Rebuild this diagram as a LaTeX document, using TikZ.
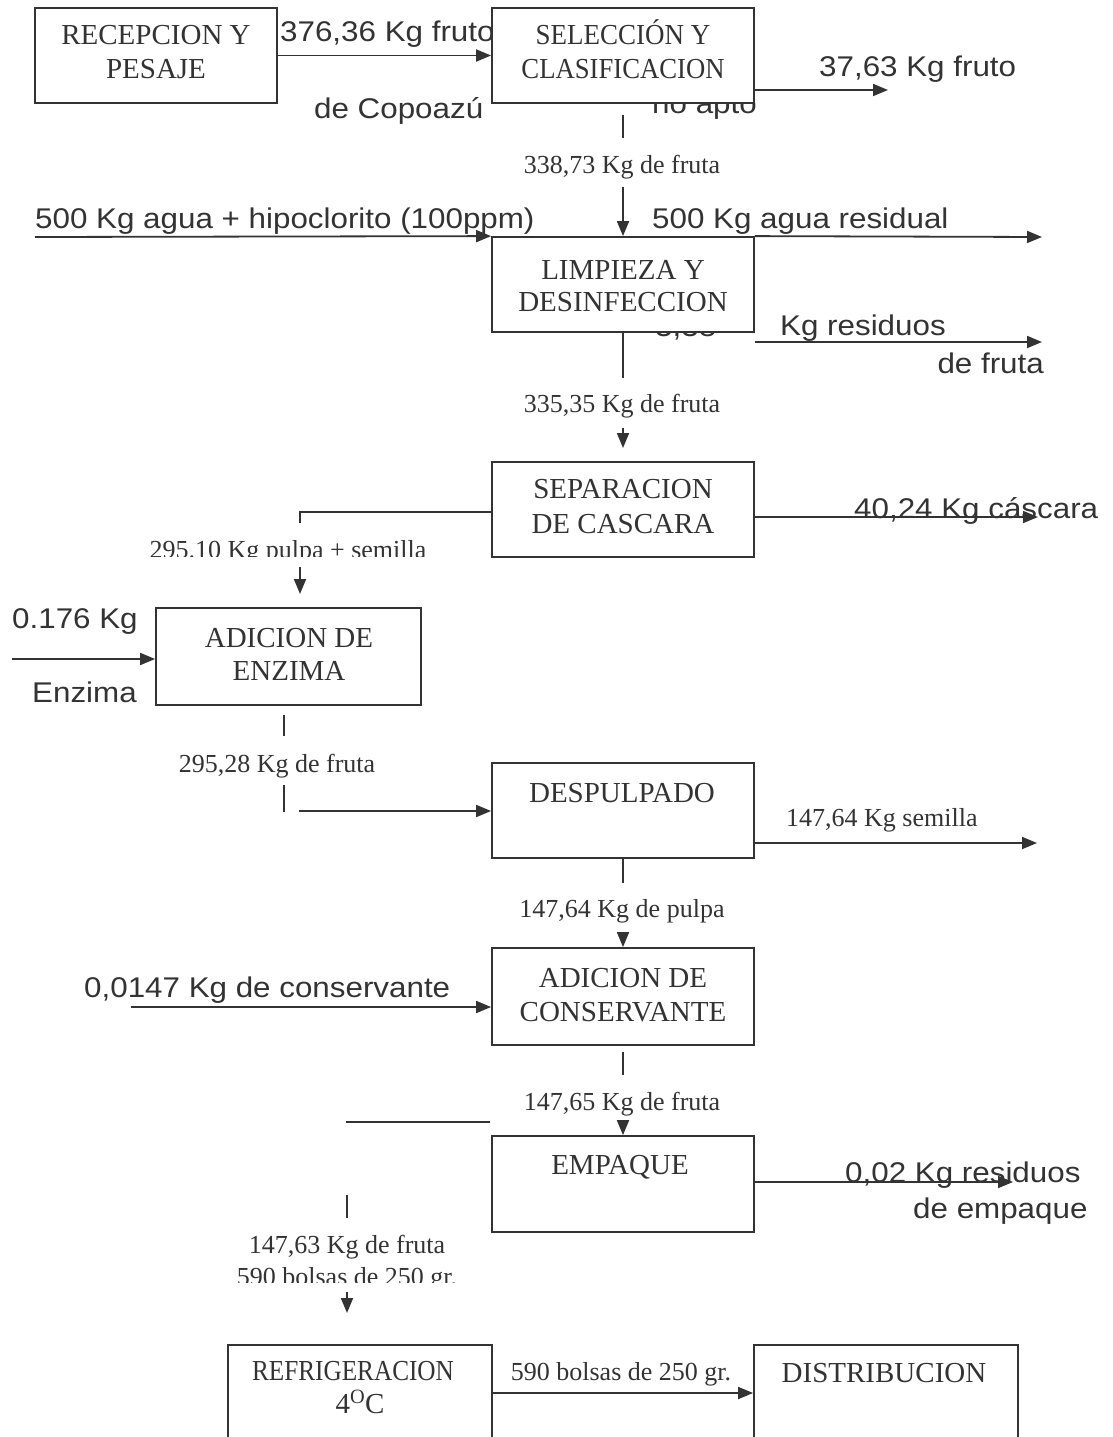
\documentclass[tikz,border=0pt]{standalone}
\usepackage{fontspec}
\usepackage{graphicx}
\usetikzlibrary{arrows.meta}
\setmainfont{Liberation Serif}
\newfontfamily\labfont[FakeStretch=1.1]{Liberation Sans}
\definecolor{ink}{HTML}{333333}
\newcommand\boxfont{\rmfamily\fontsize{29pt}{33pt}\selectfont}
\newcommand\smallfont{\rmfamily\fontsize{26pt}{30pt}\selectfont}
\newcommand\sansfont{\labfont\fontsize{28.5pt}{32pt}\selectfont}
\begin{document}
\begin{tikzpicture}[x=1pt,y=-1pt,
  box/.style={draw=ink, line width=1.8pt, fill=white, inner sep=0pt},
  bt/.style={font=\boxfont, text=ink, inner sep=0pt, anchor=base},
  st/.style={font=\smallfont, text=ink, inner sep=0pt, anchor=base},
  lt/.style={font=\sansfont, text=ink, inner sep=0pt, anchor=base west},
  ln/.style={draw=ink, line width=1.8pt},
  arr/.style={draw=ink, line width=1.8pt, -{Triangle[length=15pt,width=12pt]}}]
\clip (0,0) rectangle (1112,1437);
\fill[white] (0,0) rectangle (1112,1437);

% labels partly covered by the boxes
\node[lt] (l1a) at (280,42) {376,36 Kg fruto};
\node[lt] (l1b) at (314,118) {de Copoazú};
\node[lt] (l2b) at (652,113) {no apto};
\node[lt] (l3c) at (655,336) {3,38};

% process boxes
\node[box, minimum width=242pt, minimum height=95pt] (b1) at (156,55.5) {};
\node[box, minimum width=262pt, minimum height=95pt] (b2) at (623,55.5) {};
\node[box, minimum width=262pt, minimum height=95pt] (b3) at (623,284.5) {};
\node[box, minimum width=262pt, minimum height=95pt] (b4) at (623,509.5) {};
\node[box, minimum width=265pt, minimum height=97pt] (b5) at (288.5,656.5) {};
\node[box, minimum width=262pt, minimum height=95pt] (b6) at (623,810.5) {};
\node[box, minimum width=262pt, minimum height=97pt] (b7) at (623,996.5) {};
\node[box, minimum width=262pt, minimum height=96pt] (b8) at (623,1184) {};
\node[box, minimum width=264pt, minimum height=96pt] (b9) at (360,1393) {};
\node[box, minimum width=264pt, minimum height=96pt] (b10) at (886,1393) {};

% box texts
\node[bt] (t1a) at (156,45) {RECEPCION Y};
\node[bt] (t1b) at (156,78) {PESAJE};
\node[bt] (t2a) at (623,45) {\scalebox{0.93}[1]{SELECCIÓN Y}};
\node[bt] (t2b) at (623,78) {\scalebox{0.92}[1]{CLASIFICACION}};
\node[bt] (t3a) at (623,279) {LIMPIEZA Y};
\node[bt] (t3b) at (623,311) {DESINFECCION};
\node[bt] (t4a) at (623,498) {SEPARACION};
\node[bt] (t4b) at (623,533) {DE CASCARA};
\node[bt] (t5a) at (289,647) {ADICION DE};
\node[bt] (t5b) at (289,680) {ENZIMA};
\node[bt] (t6) at (622,802) {DESPULPADO};
\node[bt] (t7a) at (623,987) {ADICION DE};
\node[bt] (t7b) at (623,1021) {CONSERVANTE};
\node[bt] (t8) at (620,1174) {EMPAQUE};
\node[bt] (t9a) at (353,1380) {\scalebox{0.87}[1]{REFRIGERACION}};
\node[bt] (t9b) at (360,1413) {4\textsuperscript{O}C};
\node[bt] (t10) at (884,1382) {DISTRIBUCION};

% free ends of the flow lines
\coordinate (o2) at (888,90);
\coordinate (d2a) at (623,115);
\coordinate (d2b) at (623,138);
\coordinate (a3) at (623,187);
\coordinate (w3) at (35,237);
\coordinate (e3) at (1042,237);
\coordinate (r3) at (1042,342);
\coordinate (v3) at (623,378);
\coordinate (a4a) at (623,428);
\coordinate (a4b) at (623,448);
\coordinate (c4) at (1038,517);
\coordinate (k4) at (300,512);
\coordinate (k4b) at (300,523);
\coordinate (a5a) at (300,567);
\coordinate (a5b) at (300,594);
\coordinate (e5) at (12,659);
\coordinate (d5a) at (284,715);
\coordinate (d5b) at (284,736);
\coordinate (d6a) at (284,785);
\coordinate (d6b) at (284,812);
\coordinate (a6) at (299,811);
\coordinate (s6) at (1037,843);
\coordinate (v6) at (623,883);
\coordinate (a7) at (623,932);
\coordinate (e7) at (131,1007);
\coordinate (d7a) at (623,1052);
\coordinate (d7b) at (623,1075);
\coordinate (h7a) at (346,1122);
\coordinate (h7b) at (490,1122);
\coordinate (a8) at (623,1123);
\coordinate (o8) at (1013,1182);
\coordinate (d8a) at (347,1195);
\coordinate (d8b) at (347,1218);
\coordinate (a9a) at (347,1292);
\coordinate (a9b) at (347,1313);

% flow lines
\draw[arr] (b1.east) -- (b2.west);
\draw[arr] (b2.east |- o2) -- (o2);
\draw[ln] (d2a) -- (d2b);
\draw[arr] (a3) -- (b3.north);
\draw[arr] (w3) -- (b3.north west);
\draw[arr] (b3.north east) -- (e3);
\draw[arr] (b3.east |- r3) -- (r3);
\draw[ln] (b3.south) -- (v3);
\draw[arr] (a4a) -- (a4b);
\draw[arr] (b4.east |- c4) -- (c4);
\draw[ln] (b4.west |- k4) -- (k4) -- (k4b);
\draw[arr] (a5a) -- (a5b);
\draw[arr] (e5) -- (b5.west |- e5);
\draw[ln] (d5a) -- (d5b);
\draw[ln] (d6a) -- (d6b);
\draw[arr] (a6) -- (b6.west |- a6);
\draw[arr] (b6.east |- s6) -- (s6);
\draw[ln] (b6.south) -- (v6);
\draw[arr] (a7) -- (b7.north);
\draw[arr] (e7) -- (b7.west |- e7);
\draw[ln] (d7a) -- (d7b);
\draw[ln] (h7a) -- (h7b);
\draw[arr] (a8) -- (b8.north);
\draw[arr] (b8.east |- o8) -- (o8);
\draw[ln] (d8a) -- (d8b);
\draw[arr] (a9a) -- (a9b);
\draw[arr] (b9.east) -- (b10.west);

% stream labels
\node[lt] (l2a) at (819,77) {37,63 Kg fruto};
\node[st] (s2) at (622,173) {338,73 Kg de fruta};
\node[lt] (l3a) at (35,228) {500 Kg agua + hipoclorito (100ppm)};
\node[lt] (l3b) at (652,228) {500 Kg agua residual};
\node[lt] (l3d) at (780,335) {Kg residuos};
\node[lt, anchor=base east] (l3e) at (1044,373) {de fruta};
\node[st] (s3) at (622,412) {335,35 Kg de fruta};
\node[lt] (l4) at (854,518) {40,24 Kg cáscara};
\begin{scope}
  \clip (100,520) rectangle (460,556);
  \node[st] (s4) at (288,558) {295.10 Kg pulpa + semilla};
\end{scope}
\node[lt] (l5a) at (12,628) {0.176 Kg};
\node[lt] (l5b) at (32,702) {Enzima};
\node[st] (s5) at (277,772) {295,28 Kg de fruta};
\node[st, anchor=base west] (s6a) at (786,826) {147,64 Kg semilla};
\node[st] (s6b) at (622,917) {147,64 Kg de pulpa};
\node[lt] (l7) at (84,997) {0,0147 Kg de conservante};
\node[st] (s7) at (622,1110) {147,65 Kg de fruta};
\node[lt] (l8a) at (845,1182) {0,02 Kg residuos};
\node[lt] (l8b) at (913,1218) {de empaque};
\node[st] (s8a) at (347,1253) {147,63 Kg de fruta};
\begin{scope}
  \clip (200,1258) rectangle (500,1282);
  \node[st] (s8b) at (347,1285) {590 bolsas de 250 gr.};
\end{scope}
\node[st] (s9) at (621,1380) {590 bolsas de 250 gr.};
\end{tikzpicture}
\end{document}
